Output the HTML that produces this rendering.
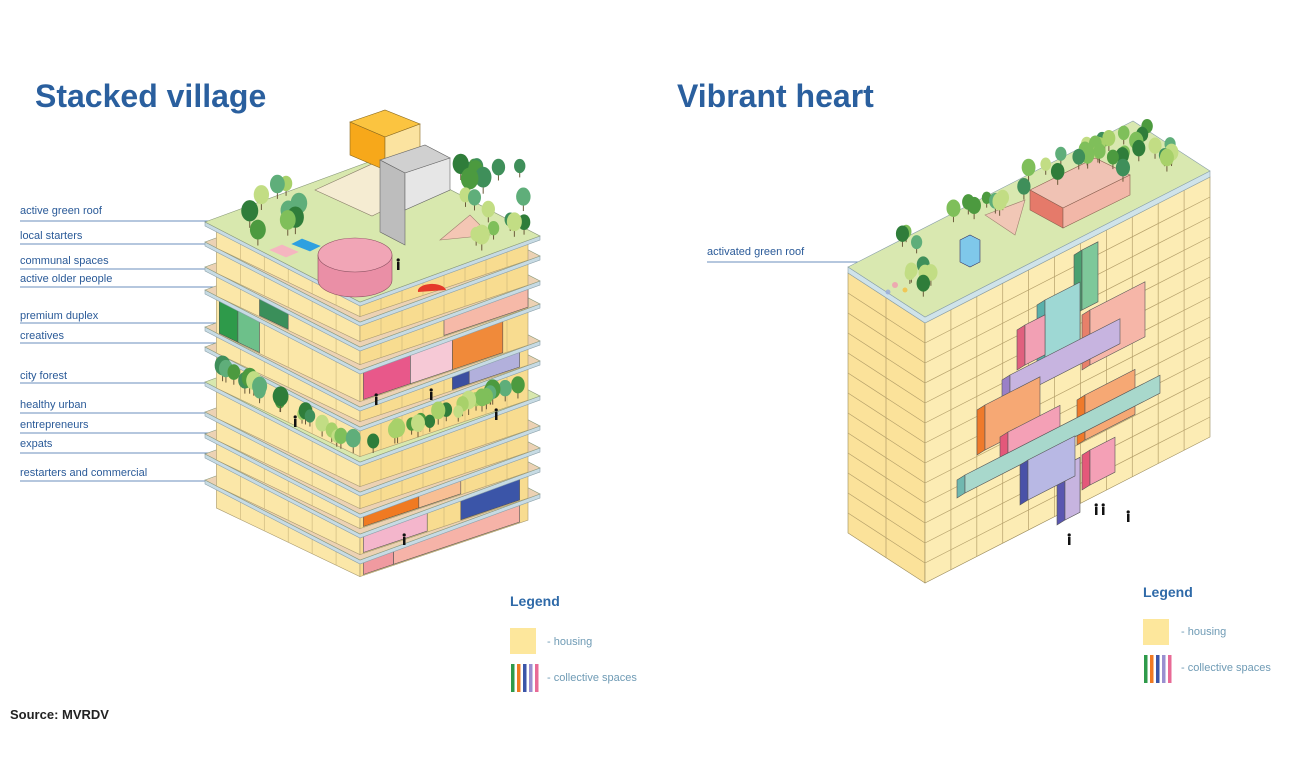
<!DOCTYPE html>
<html><head><meta charset="utf-8">
<style>
body{margin:0;background:#fff;width:1309px;height:768px;overflow:hidden;position:relative;font-family:"Liberation Sans",sans-serif}
.t{position:absolute;font-weight:bold;color:#2a5f9e;font-size:32px}
.lb{position:absolute;left:20px;font-size:11px;color:#2a5a98;white-space:nowrap}
.lg{position:absolute;font-size:14px;font-weight:bold;color:#2f6aa8}
.lt{position:absolute;font-size:11px;color:#6f9bb5}
svg{position:absolute;left:0;top:0}
</style></head><body>
<svg id="s" width="1309" height="768" viewBox="0 0 1309 768"></svg>
<div class="t" style="left:35px;top:78px">Stacked village</div>
<div class="t" style="left:677px;top:78px">Vibrant heart</div>
<div class="lb" style="top:205px">active green roof</div>
<div class="lb" style="top:230px">local starters</div>
<div class="lb" style="top:255px">communal spaces</div>
<div class="lb" style="top:273px">active older people</div>
<div class="lb" style="top:310px">premium duplex</div>
<div class="lb" style="top:330px">creatives</div>
<div class="lb" style="top:370px">city forest</div>
<div class="lb" style="top:399px">healthy urban</div>
<div class="lb" style="top:419px">entrepreneurs</div>
<div class="lb" style="top:438px">expats</div>
<div class="lb" style="top:467px">restarters and commercial</div>
<div class="lb" style="left:707px;top:246px">activated green roof</div>
<div class="lg" style="left:510px;top:593px">Legend</div>
<div class="lt" style="left:547px;top:636px">- housing</div>
<div class="lt" style="left:547px;top:672px">- collective spaces</div>
<div class="lg" style="left:1143px;top:584px">Legend</div>
<div class="lt" style="left:1181px;top:626px">- housing</div>
<div class="lt" style="left:1181px;top:662px">- collective spaces</div>
<div style="position:absolute;left:10px;top:707px;font-size:13px;font-weight:bold;color:#222">Source: MVRDV</div>
<script>
var S=document.getElementById('s'),h='';
function P(pts,f,st){h+='<polygon points="'+pts.map(p=>p[0].toFixed(1)+','+p[1].toFixed(1)).join(' ')+'" fill="'+f+'" stroke="'+(st||'#8a7e6a')+'" stroke-width="0.6"/>';}
function L(x1,y1,x2,y2,c,w){h+='<line x1="'+x1+'" y1="'+y1+'" x2="'+x2+'" y2="'+y2+'" stroke="'+c+'" stroke-width="'+(w||1)+'"/>';}
var seed=7;function rnd(){seed=(seed*9301+49297)%233280;return seed/233280;}
var greens=['#4c9a3f','#7fbf5a','#a8d16a','#3f8f5a','#5fae7a','#c2dd84','#2f7d3a'];
function tree(x,y,r){var c=greens[Math.floor(rnd()*greens.length)];L(x,y,x,y-r,'#6b5a3a',1);h+='<ellipse cx="'+x+'" cy="'+(y-r-r*0.6)+'" rx="'+r*0.8+'" ry="'+r+'" fill="'+c+'"/>';}
h+='<rect x="510" y="628" width="26" height="26" fill="#fde79c"/><rect x="1143" y="619" width="26" height="26" fill="#fde79c"/>';
['#2e9a4a','#f07a22','#3b55a8','#9a8fd0','#e86a96'].forEach((c,i)=>{h+='<rect x="'+(511+i*6)+'" y="664" width="3.5" height="28" fill="'+c+'"/><rect x="'+(1144+i*6)+'" y="655" width="3.5" height="28" fill="'+c+'"/>';});
[[221,262],[244,235],[269,235],[287,230],[323,235],[343,225],[383,240],[413,230],[433,225],[453,225],[481,225]].forEach(a=>{L(20,a[0],a[1],a[0],'#3a6aa8',0.8);});
L(707,262,880,262,'#3a6aa8',0.8);
// ---------- left building
var Lp=[205,222],Fp=[360,302],Rp=[540,236],Bp=[385,156];
var fl=[[0,'g'],[20,'t'],[45,'t'],[68,'t'],[105,'t'],[125,'t'],[160,'g'],[190,'t'],[212,'t'],[232,'t'],[258,'t']];
function sh(p,d,dx){return [p[0]+(dx||0),p[1]+d];}
var blocks={3:[['r',0.02,0.3,'#e8588a'],['r',0.3,0.55,'#f6c9d6'],['r',0.55,0.85,'#f08a3a'],['l',0.02,0.15,'#2e9a4a'],['l',0.15,0.3,'#6dc08a']],4:[['r',0.55,0.65,'#3b4fa0'],['r',0.65,0.95,'#b2b0dc']],2:[['l',0.3,0.5,'#3a8f5a'],['r',0.5,1,'#f6b9a8']],8:[['r',0.02,0.35,'#f07a22'],['r',0.35,0.6,'#f8bf94']],9:[['r',0.02,0.4,'#f4b6cc'],['r',0.6,0.95,'#3b55a8']],10:[['r',0.02,0.2,'#f09aa0'],['r',0.2,0.95,'#f6b3a8']]};
for(var i=fl.length-1;i>=0;i--){
 var y=fl[i][0],yn=(i<fl.length-1?fl[i+1][0]:y+22);
 var ins=6;
 var l1=[Lp[0]+ins*1.9,Lp[1]+y+ins],f1=[Fp[0],Fp[1]+y-ins*0.9],r1=[Rp[0]-ins*2,Rp[1]+y+ins*0.7];
 P([l1,f1,[f1[0],f1[1]+yn-y],[l1[0],l1[1]+yn-y]],'#fbe7a8','#a89a70');
 P([f1,r1,[r1[0],r1[1]+yn-y],[f1[0],f1[1]+yn-y]],'#f8dc90','#a89a70');
 for(var k=1;k<6;k++){var x=l1[0]+(f1[0]-l1[0])*k/6,yy=l1[1]+(f1[1]-l1[1])*k/6;L(x,yy,x,yy+yn-y,'#c9b47a',0.6);}
 for(var k=1;k<8;k++){var x=f1[0]+(r1[0]-f1[0])*k/8,yy=f1[1]+(r1[1]-f1[1])*k/8;L(x,yy,x,yy+yn-y,'#c9b47a',0.6);}
 (blocks[i]||[]).forEach(b=>{var a=b[0]=='r'?f1:l1,c=b[0]=='r'?r1:f1;var p0=[a[0]+(c[0]-a[0])*b[1],a[1]+(c[1]-a[1])*b[1]],p1=[a[0]+(c[0]-a[0])*b[2],a[1]+(c[1]-a[1])*b[2]];P([p0,p1,[p1[0],p1[1]+yn-y-1],[p0[0],p0[1]+yn-y-1]],b[3],'#555');});
 var col=fl[i][1]=='g'?'#d8e8ae':'#ecd2b4';
 P([sh(Lp,y+4),sh(Fp,y+4),sh(Rp,y+4),sh(Rp,y),sh(Fp,y),sh(Lp,y)],'#c7dbe4','#8aa0aa');
 P([sh(Lp,y),sh(Fp,y),sh(Rp,y),sh(Bp,y)],col,'#8a9a7a');
}
// city forest trees (front strip of floor 6)
seed=11;var ts=[];
for(var k=0;k<18;k++){var a=rnd();ts.push([Lp[0]+12+a*(Fp[0]-Lp[0]-12),Lp[1]+160+a*(Fp[1]-Lp[1])-2-rnd()*6]);}
for(var k=0;k<20;k++){var a=rnd();ts.push([Fp[0]+a*(Rp[0]-Fp[0]-10),Fp[1]+160+a*(Rp[1]-Fp[1])-2-rnd()*6]);}
ts.sort((p,q)=>p[1]-q[1]).forEach(p=>tree(p[0],p[1],6+rnd()*4));
// roof objects
P([[315,190],[385,158],[440,183],[372,216]],'#f5ecd2','#8a7e6a');
P([[350,122],[385,110],[420,124],[385,137]],'#fbc440','#8a6a20');P([[350,122],[385,137],[385,170],[350,155]],'#f7a81a','#8a6a20');P([[385,137],[420,124],[420,156],[385,170]],'#fbe3a0','#8a6a20');
P([[380,160],[425,145],[450,158],[405,173]],'#d0d0d0','#666');P([[380,160],[405,173],[405,245],[380,232]],'#bdbdbd','#666');P([[405,173],[450,158],[450,190],[405,210]],'#e6e6e6','#666');
h+='<path d="M318 255 L318 280 A37 17 0 0 0 392 280 L392 255 Z" fill="#ea8fa6" stroke="#8a5060" stroke-width="0.6"/><ellipse cx="355" cy="255" rx="37" ry="17" fill="#f1a5b6" stroke="#8a5060" stroke-width="0.6"/>';
h+='<path d="M418 292 A14 7 0 0 1 446 290 Z" fill="#e53a2a"/>';
P([[292,244],[302,239],[320,246],[310,251]],'#2ea0e0','#2ea0e0');P([[270,250],[282,245],[298,252],[286,257]],'#f5b6c0','#f5b6c0');
P([[440,240],[470,215],[490,235]],'#f4c6b4','#a08070');
seed=3;var rt=[];for(var k=0;k<60;k++){var a=rnd(),b=rnd();var x=Lp[0]+a*(Fp[0]-Lp[0])+b*(Bp[0]-Lp[0]),y=Lp[1]+a*(Fp[1]-Lp[1])+b*(Bp[1]-Lp[1]);if(x>300&&x<455&&y>150&&y<300)continue;if(a>0.45&&b<0.35)continue;rt.push([x,y]);}
for(var k=0;k<10;k++){rt.push([455+rnd()*70,175+rnd()*50]);}
rt.sort((p,q)=>p[1]-q[1]).forEach(p=>tree(p[0],p[1],7+rnd()*4));
// ---------- right building
var A=[848,273],Fr=[925,323],Rr=[1210,177],Bk=[1133,127],H=260;
P([A,Fr,[Fr[0],Fr[1]+H],[A[0],A[1]+H]],'#fbe29a','#9a8a5a');
P([Fr,Rr,[Rr[0],Rr[1]+H],[Fr[0],Fr[1]+H]],'#fcecb4','#9a8a5a');
for(var r=1;r<13;r++){var d=H*r/13;L(A[0],A[1]+d,Fr[0],Fr[1]+d,'#b5a06a',0.7);L(Fr[0],Fr[1]+d,Rr[0],Rr[1]+d,'#b5a06a',0.7);}
L(886,298,886,558,'#b5a06a',0.7);
for(var c=1;c<11;c++){var x=Fr[0]+(Rr[0]-Fr[0])*c/11,y=Fr[1]+(Rr[1]-Fr[1])*c/11;L(x,y,x,y+H,'#b5a06a',0.7);}
P([[A[0],A[1]-6],[Fr[0],Fr[1]-6],[Rr[0],Rr[1]-6],[Rr[0],Rr[1]],[Fr[0],Fr[1]],A],'#cfe3ea','#8aa0aa');
P([[A[0],A[1]-6],[Fr[0],Fr[1]-6],[Rr[0],Rr[1]-6],[Bk[0],Bk[1]-6]],'#d9e8b0','#8aa0aa');
function rp(u,v){return [A[0]+u*(Fr[0]-A[0])+v*(Bk[0]-A[0]),A[1]-6+u*(Fr[1]-A[1])+v*(Bk[1]-A[1])];}
var rr=[];seed=5;
for(var k=0;k<26;k++){rr.push(rp(0.05+rnd()*0.25,0.05+rnd()*0.9));}
for(var k=0;k<16;k++){rr.push(rp(0.2+rnd()*0.7,0.78+rnd()*0.2));}
for(var k=0;k<6;k++){rr.push(rp(0.5+rnd()*0.45,0.03+rnd()*0.12));}
// pavilion etc drawn with trees sorted
P([[1030,190],[1095,158],[1130,175],[1063,208]],'#f0c2b4','#8a6050');P([[1030,190],[1063,208],[1063,228],[1030,210]],'#e57a6a','#8a6050');P([[1063,208],[1130,175],[1130,195],[1063,228]],'#f2b7a8','#8a6050');
P([[960,240],[970,235],[980,240],[980,262],[970,267],[960,262]],'#7fc8ea','#336');
P([[985,215],[1025,200],[1015,235]],'#f1c7b6','#a08070');
h+='<g opacity="0.8"><circle cx="895" cy="285" r="3" fill="#f29ab0"/><circle cx="905" cy="290" r="2.5" fill="#f6c040"/><circle cx="888" cy="292" r="2.5" fill="#9ad"/></g>';
rr.sort((p,q)=>p[1]-q[1]).forEach(p=>tree(p[0],p[1],6+rnd()*3));
function blk(x0,y0,x1,hh,c,cs){var s=-0.512;
 P([[x0-8,y0+5],[x0,y0],[x0,y0+hh],[x0-8,y0+hh+5]],cs,'#555');P([[x0,y0],[x1,y0+s*(x1-x0)],[x1,y0+s*(x1-x0)+hh],[x0,y0+hh]],c,'#555');}
blk(1082,250,1098,60,'#7ec89a','#4aa070');
blk(1045,300,1080,60,'#9ed8d4','#5ab0aa');
blk(1090,310,1145,55,'#f6b6a8','#e8806a');
blk(1025,325,1045,40,'#f2a0b4','#e0607e');
blk(1010,375,1120,25,'#c7b4e0','#9a80c8');
blk(985,405,1040,45,'#f6a874','#ef7a2a');
blk(1085,395,1135,45,'#f6a874','#ef7a2a');
blk(1008,432,1060,22,'#f4a0b6','#e4587a');
blk(965,475,1160,18,'#a8d8cc','#70b8b0');
blk(1065,465,1080,55,'#c7b4e0','#5a56b0');
blk(1028,460,1075,40,'#b8b8e4','#4a52a8');
blk(1090,450,1115,35,'#f4a0b6','#e4587a');
[[1095,515],[1102,515],[1127,522],[1068,545],[403,545],[375,405],[430,400],[495,420],[294,427],[397,270]].forEach(p=>{h+='<rect x="'+p[0]+'" y="'+(p[1]-8)+'" width="2.5" height="8" fill="#111"/><circle cx="'+(p[0]+1.2)+'" cy="'+(p[1]-10)+'" r="1.6" fill="#111"/>';});
S.innerHTML=h;
</script>
</body></html>
